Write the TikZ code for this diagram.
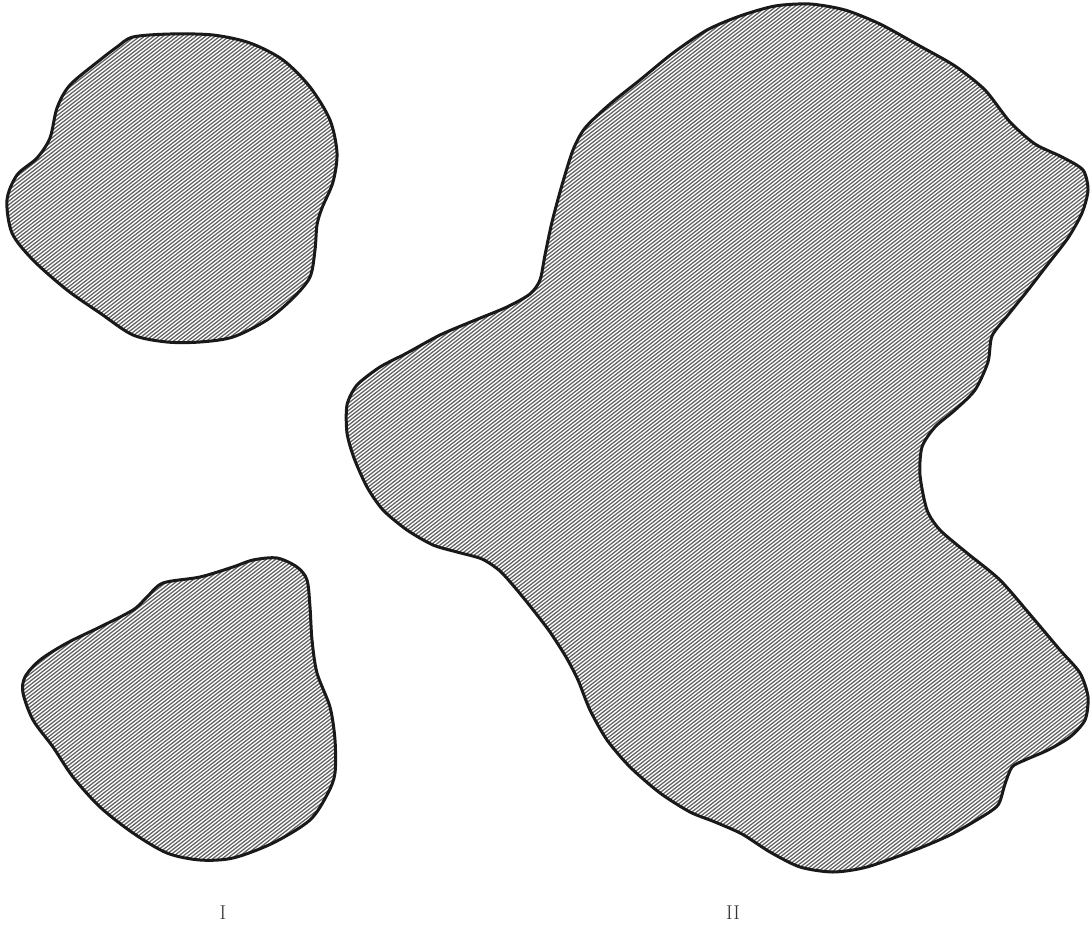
\documentclass[tikz,border=0pt]{standalone}
\begin{document}
\begin{tikzpicture}[x=1pt,y=-1pt,
  outline/.style={line width=3pt,black!90,line join=round},
  hatch/.style={line width=1.25pt,black!62},
  lbl/.style={font=\fontsize{20}{22}\selectfont,inner sep=0pt,text=black!80}]
\useasboundingbox (0,0) rectangle (1090,926);
\def\shapeA{plot[smooth cycle,tension=0.5] coordinates {
 (133,37) (170,34) (213,35) (250,43) (283,60) (310,87) (330,120) (337,153)
 (333,182) (322,208) (317,225) (315,250) (310,277) (293,298) (267,320)
 (233,337) (200,342) (167,342) (133,335) (100,313) (67,290) (33,260)
 (12,233) (7,200) (17,175) (37,158) (50,138) (57,108) (70,85)
 (100,60) (117,47)}}
\def\shapeB{plot[smooth cycle,tension=0.5] coordinates {
 (297,567) (277,558) (253,560) (233,567) (200,577) (163,583) (147,597)
 (133,610) (100,627) (67,643) (40,660) (25,677) (23,693) (33,720) (53,747)
 (73,777) (100,807) (133,833) (167,853) (200,860) (233,858) (273,843)
 (310,820) (328,793) (335,773) (335,740) (330,707) (317,673) (312,640)
 (310,607) (307,580)}}
\def\shapeC{plot[smooth cycle,tension=0.45] coordinates {
 (347,433) (347,405) (357,385) (380,367) (407,353) (440,335) (473,321)
 (507,307) (530,294) (540,280) (545,255) (552,222) (562,185) (573,150)
 (585,128) (610,104) (640,80) (673,53) (707,30) (740,16) (775,6) (810,4)
 (845,10) (880,24) (918,45) (955,66) (985,90) (1010,122) (1035,144)
 (1062,157) (1083,170) (1088,190) (1082,213) (1068,238) (1048,264)
 (1028,290) (1008,315) (992,336) (988,362) (975,390) (955,410)
 (935,427) (922,447) (920,475) (927,510) (940,530) (967,553) (1000,580)
 (1033,618) (1060,650) (1080,673) (1088,697) (1085,720) (1070,737)
 (1048,750) (1025,760) (1012,767) (1005,784) (998,805) (980,818)
 (950,835) (915,850) (867,867) (833,872) (800,867) (770,852) (742,834)
 (715,822) (690,812) (660,793) (630,767) (607,740) (590,710) (578,680)
 (566,657) (550,632) (534,611) (517,590) (500,571) (482,559) (457,552)
 (433,545) (407,530) (383,510) (367,487) (354,458)}}
\begin{scope}
  \clip \shapeA \shapeB \shapeC;
  \fill[white] (0,0) rectangle (1090,926);
  \begin{scope}[rotate around={38:(545,463)}]
    \foreach \i in {-250,...,250}
      \draw[hatch] (-200,463+2.9*\i) -- (1290,463+2.9*\i);
  \end{scope}
\end{scope}
\draw[outline] \shapeA;
\draw[outline] \shapeB;
\draw[outline] \shapeC;
\node[lbl] (lblI) at (223,913) {I};
\node[lbl] (lblII) at (733,913) {II};
\end{tikzpicture}
\end{document}
